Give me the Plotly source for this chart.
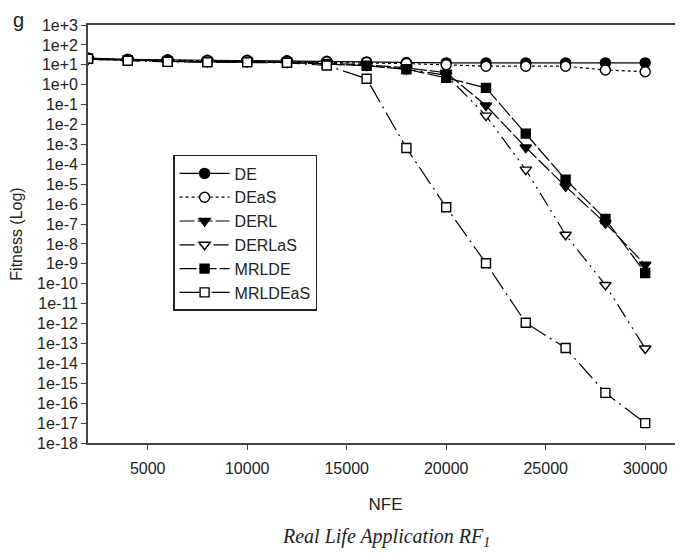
import plotly.graph_objects as go

nfe = [2000, 4000, 6000, 8000, 10000, 12000, 14000, 16000, 18000, 20000,
       22000, 24000, 26000, 28000, 30000]

de = [22, 19, 18, 17, 17, 16, 15, 14, 13, 12.5, 12.5, 12.5, 12.5, 12.5, 12.5]
deas = [21, 18, 17, 16, 16, 15, 14, 13, 11.5, 10, 8.5, 8.5, 8.5, 5.5, 4.5]
derl = [19, 17, 16, 15, 15, 14, 12, 10, 7, 4, 0.09, 7e-4, 7.8e-6, 1.1e-7, 9e-10]
derlas = [19, 17, 15, 14, 14, 13, 11, 9, 6, 3, 0.028, 5.4e-5, 2.9e-8, 8.7e-11, 5.6e-14]
mrlde = [20, 17, 15, 14, 14, 13, 11, 9, 6, 2.2, 0.69, 3.5e-3, 1.7e-5, 1.8e-7, 3.5e-10]
mrldeas = [20, 16, 14, 13.5, 13.5, 12.6, 9.2, 2.0, 6.6e-4, 7e-7, 1.07e-9, 1.1e-12, 5.9e-14, 3.3e-16, 1e-17]

y_exponents = list(range(3, -19, -1))
y_ticklabels = ["1e+%d" % e if e >= 0 else "1e%d" % e for e in y_exponents]
x_ticks = [5000, 10000, 15000, 20000, 25000, 30000]

# name, values, symbol, filled, dash
series = [
    ("DE", de, "circle", True, "solid"),
    ("DEaS", deas, "circle", False, "dot"),
    ("DERL", derl, "triangle-down", True, "15px,3px"),
    ("DERLaS", derlas, "triangle-down", False, "15px,5px,2px,5px,2px,5px"),
    ("MRLDE", mrlde, "square", True, "17px,3px"),
    ("MRLDEaS", mrldeas, "square", False, "20px,5px,2px,5px"),
]

fig = go.Figure()
for name, vals, sym, filled, dash in series:
    size = 9 if sym == "square" else 10
    fig.add_trace(go.Scatter(
        x=nfe, y=vals, name=name, mode="lines+markers",
        line=dict(color="black", width=1.2, dash=dash),
        marker=dict(symbol=sym, size=size, color="black" if filled else "white",
                    line=dict(color="black", width=1.4)),
    ))

fig.update_layout(
    width=683, height=555,
    margin=dict(l=80, r=8, t=17, b=120),
    paper_bgcolor="white", plot_bgcolor="white",
    font=dict(family="Liberation Sans, Arial, sans-serif", size=16, color="#222"),
    showlegend=True,
    legend=dict(
        x=0.143, y=0.689, xanchor="left", yanchor="top",
        bordercolor="#222", borderwidth=1.5, bgcolor="white",
        font=dict(size=16), tracegroupgap=0, itemwidth=50,
    ),
    xaxis=dict(
        range=[2000, 31900], tickvals=x_ticks, ticktext=[str(v) for v in x_ticks],
        showgrid=False, zeroline=False, showline=True, linecolor="#444", linewidth=1.6,
        mirror=True, ticks="outside", ticklen=5, tickcolor="#444", automargin=False,
        ticklabelstandoff=5,
        title=dict(text="NFE", standoff=22, font=dict(size=17)),
    ),
    yaxis=dict(
        type="log", range=[-18, 3],
        tickvals=[10.0 ** e for e in y_exponents], ticktext=y_ticklabels,
        showgrid=False, zeroline=False, showline=True, linecolor="#444", linewidth=1.6,
        ticks="outside", ticklen=5, tickcolor="#444", automargin=False,
        title=dict(text="Fitness (Log)", standoff=10, font=dict(size=16)),
    ),
    annotations=[
        dict(text="g", xref="paper", yref="paper", x=-0.128, y=1.0395,
             xanchor="left", yanchor="top", showarrow=False, borderpad=0,
             font=dict(size=20, color="#222")),
        dict(text="<i>Real Life Application RF<sub>1</sub></i>", xref="paper", yref="paper",
             x=0.5, y=-0.227, xanchor="center", yanchor="middle", showarrow=False,
             font=dict(family="Liberation Serif, Times New Roman, serif", size=20, color="#222")),
    ],
)

fig.write_html("out.html")
